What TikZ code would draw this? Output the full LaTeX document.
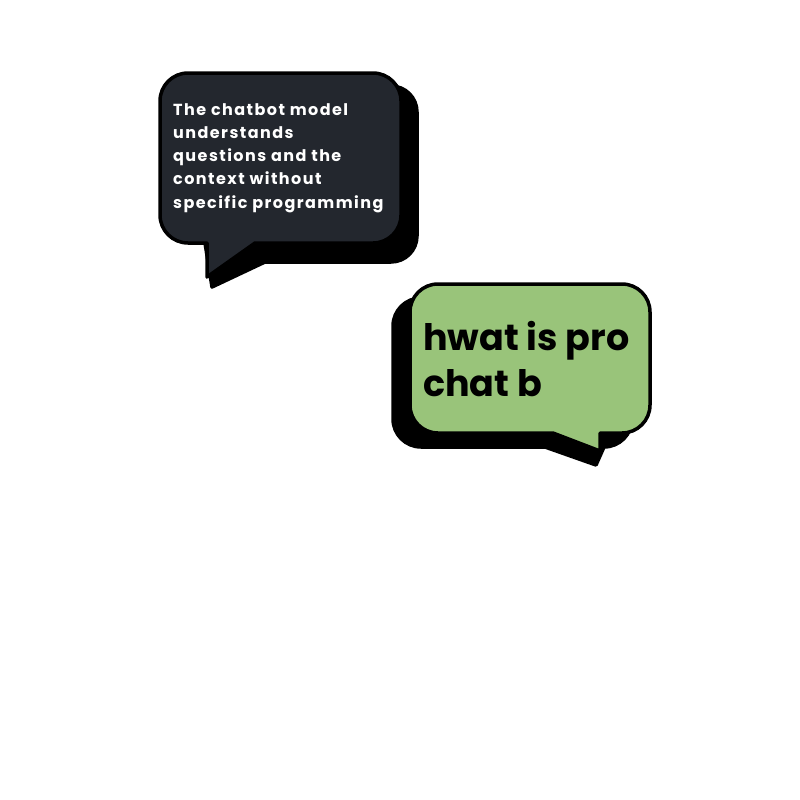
\documentclass[tikz,border=0pt]{standalone}
\usepackage{fontspec}
\setmainfont{Poppins}
\newfontfamily\lsfont[LetterSpace=9,BoldFeatures={LetterSpace=9}]{Poppins}
\definecolor{darkfill}{HTML}{23272E}
\definecolor{greenfill}{HTML}{99C47A}
\begin{document}
\begin{tikzpicture}[x=1pt,y=-1pt,
  outline/.style={draw=black,line width=3.5pt,line join=round},
  shadowshape/.style={fill=black,draw=black,line width=3.5pt,line join=round}]
\useasboundingbox (0,0) rectangle (800,800);
% dark bubble shadow
\path[shadowshape] (212,287) -- (205,243) -- (205,86) -- (391,86) arc[start angle=270,end angle=360,radius=26] -- (417,236) arc[start angle=0,end angle=90,radius=26] -- (265,262) -- cycle;
% dark bubble front
\path[outline,fill=darkfill] (207,243) -- (188,243) arc[start angle=90,end angle=180,radius=28] -- (160,101) arc[start angle=180,end angle=270,radius=28] -- (373,73) arc[start angle=270,end angle=360,radius=28] -- (401,215) arc[start angle=0,end angle=90,radius=28] -- (255,243) -- (207,277) -- cycle;
% green bubble shadow
\path[shadowshape] (545,447) -- (421,447) arc[start angle=90,end angle=180,radius=28] -- (393,326) arc[start angle=180,end angle=270,radius=28] -- (604,298) arc[start angle=270,end angle=360,radius=28] -- (632,419) arc[start angle=0,end angle=90,radius=28] -- (604,447) -- (596,465) -- cycle;
% green bubble front
\path[outline,fill=greenfill] (553,433) -- (438,433) arc[start angle=90,end angle=180,radius=28] -- (410,312) arc[start angle=180,end angle=270,radius=28] -- (622,284) arc[start angle=270,end angle=360,radius=28] -- (650,405) arc[start angle=0,end angle=90,radius=28] -- (600,433) -- (600,451) -- cycle;
\node[anchor=north west,inner sep=0pt,align=left,text=white,font=\lsfont\bfseries\fontsize{16}{23.3}\selectfont] (darktext) at (173,103) {The chatbot model\\understands\\questions and the\\context without\\specific programming};
\node[anchor=north west,inner sep=0pt,align=left,text=black,font=\bfseries\fontsize{36.5}{46}\selectfont] (greentext) at (423,321) {hwat is pro\\chat b};
\end{tikzpicture}
\end{document}
